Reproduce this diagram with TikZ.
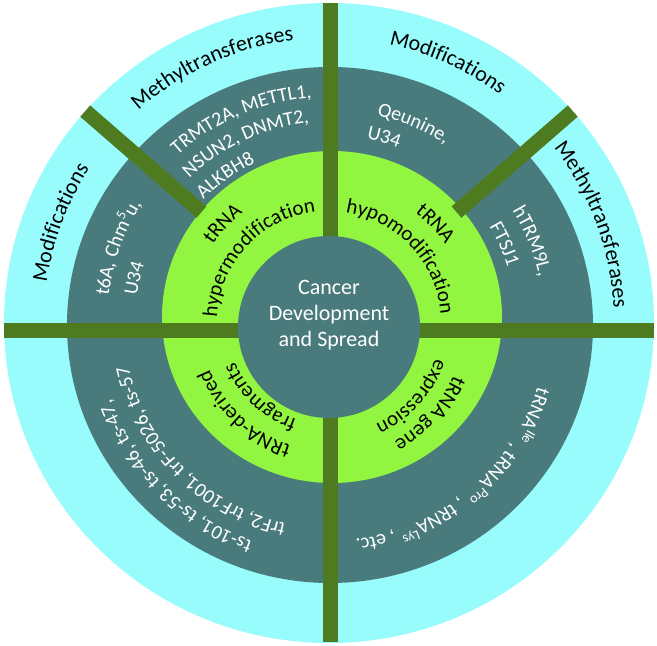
\documentclass[tikz,border=0pt]{standalone}
\usepackage{fontspec}
\setmainfont{Carlito}
\usepackage{tikz}
\usetikzlibrary{decorations.text}
\definecolor{ringcyan}{HTML}{98FCFC}
\definecolor{ringteal}{HTML}{4A7B7C}
\definecolor{ringlime}{HTML}{92F540}
\definecolor{barolive}{HTML}{4E7B20}
\newcommand{\bigfont}{\fontsize{11}{13}\selectfont}
\newcommand{\midfont}{\fontsize{10.5}{12.5}\selectfont}
\newcommand{\tealfont}{\fontsize{10}{12}\selectfont}

\begin{document}
\begin{tikzpicture}[
  x=0.5pt, y=0.5pt,
  spoke/.style={draw=barolive, line width=7.5pt},
  hub/.style={circle, fill=ringteal, minimum size=91pt, inner sep=0pt},
  hubtext/.style={text=white, align=center, font=\bigfont},
  arclabel/.style={decorate, decoration={text along path, text align=center, text={#1}}},
  leftlabel/.style={decorate, decoration={text along path, text align=left, text={#1}}},
  onteal/.style={decoration={text color=white}}
]
\useasboundingbox (-329,-323) rectangle (328,323);

%% Rings, outside in
\fill[ringcyan] (0,0) ellipse [x radius=325, y radius=320];
\fill[ringteal] (1,-2) ellipse [x radius=263, y radius=258];
\fill[ringlime] (3,6) ellipse [x radius=170, y radius=166];

%% Spokes
\draw[spoke] (1,320) -- (1,-319);
\draw[spoke] (-325,-8) -- (325,-8);
\draw[spoke] (139:169) -- (139:323);
\draw[spoke] (41:169) -- (41:323);

%% Hub
\node[hub] (hub) at (0,-4) {};
\node[hubtext] (core) at (0,8) {Cancer\\Development\\and Spread};

%% Outer ring
\path[arclabel={|\bigfont|Modifications}] (180:285) arc[start angle=180, end angle=139, radius=285];
\path[arclabel={|\bigfont|Methyltransferases}] (139:285) arc[start angle=139, end angle=90, radius=285];
\path[arclabel={|\bigfont|Modifications}] (90:285) arc[start angle=90, end angle=41, radius=285];
\path[arclabel={|\bigfont|Methyltransferases}] (41:285) arc[start angle=41, end angle=0, radius=285];

%% Teal ring, top
\path[leftlabel={|\tealfont|t6A, Chm{\textsuperscript{5}}u,}, onteal] (173:222) arc[start angle=173, end angle=100, radius=222];
\path[leftlabel={|\tealfont|U34}, onteal] (172:194) arc[start angle=172, end angle=100, radius=194];
\path[leftlabel={|\tealfont|TRMT2A, METTL1,}, onteal] (132:226) arc[start angle=132, end angle=60, radius=226];
\path[leftlabel={|\tealfont|NSUN2, DNMT2,}, onteal] (134:201) arc[start angle=134, end angle=60, radius=201];
\path[leftlabel={|\tealfont|ALKBH8}, onteal] (135.5:176) arc[start angle=135.5, end angle=60, radius=176];
\path[leftlabel={|\tealfont|Qeunine,}, onteal] (77:213) arc[start angle=77, end angle=10, radius=213];
\path[leftlabel={|\tealfont|U34}, onteal] (78.5:188) arc[start angle=78.5, end angle=10, radius=188];
\path[leftlabel={|\tealfont|hTRM9L,}, onteal] (31.5:215) arc[start angle=31.5, end angle=-40, radius=215];
\path[leftlabel={|\tealfont|FTSJ1}, onteal] (31:187) arc[start angle=31, end angle=-40, radius=187];

%% Teal ring, bottom
\path[arclabel={|\tealfont|ts-101, ts-53, ts-46, ts-47,}, onteal] (270:231) arc[start angle=270, end angle=180, radius=231];
\path[arclabel={|\tealfont|trF2, trF1001, trF-5026, ts-57}, onteal] (270:205) arc[start angle=270, end angle=180, radius=205];
\path[arclabel={|\tealfont|tRNA{\textsuperscript{Ile}} , tRNA{\textsuperscript{Pro}} , tRNA{\textsuperscript{Lys}} , etc.}, onteal] (355:218) arc[start angle=355, end angle=265, radius=218];

%% Green ring
\path[arclabel={|\midfont|tRNA}] (182:140) arc[start angle=182, end angle=92, radius=140];
\path[arclabel={|\midfont|hypermodification}] (182:112) arc[start angle=182, end angle=92, radius=112];
\path[arclabel={|\midfont|tRNA}] (88:140) arc[start angle=88, end angle=-2, radius=140];
\path[arclabel={|\midfont|hypomodification}] (88:112) arc[start angle=88, end angle=-2, radius=112];
\path[arclabel={|\midfont|tRNA-derived}] (272:128) arc[start angle=272, end angle=182, radius=128];
\path[arclabel={|\midfont|fragments}] (272:102) arc[start angle=272, end angle=182, radius=102];
\path[arclabel={|\midfont|tRNA gene}] (363:135) arc[start angle=363, end angle=273, radius=135];
\path[arclabel={|\midfont|expression}] (363:112) arc[start angle=363, end angle=273, radius=112];

\end{tikzpicture}
\end{document}
